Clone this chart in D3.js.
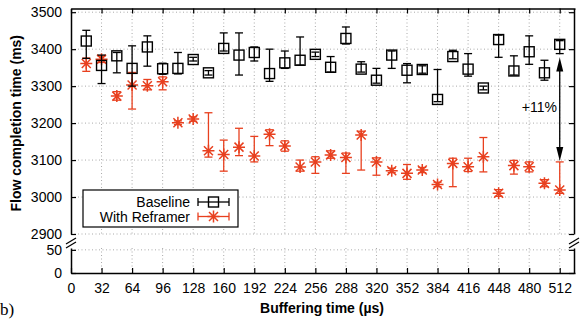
<!DOCTYPE html>
<html>
<head>
<meta charset="utf-8">
<script src="https://cdn.jsdelivr.net/npm/d3@7"></script>
<style>
  body { margin: 0; background: #fff; }
  svg { display: block; font-family: "Liberation Sans", Arial, sans-serif; }
</style>
</head>
<body>
<svg id="chart" width="580" height="320"></svg>
<script>
const bufferTimes = [16, 32, 48, 64, 80, 96, 112, 128, 144, 160, 176, 192, 208, 224, 240, 256,
  272, 288, 304, 320, 336, 352, 368, 384, 400, 416, 432, 448, 464, 480, 496, 512];

const baselineMean = [3422, 3356, 3382, 3348, 3406, 3347, 3348, 3372, 3336, 3402, 3384, 3391, 3334, 3363, 3370, 3386,
  3351, 3429, 3346, 3316, 3384, 3343, 3345, 3264, 3380, 3346, 3295, 3426, 3341, 3393, 3336, 3413];
const baselineLo = [3375, 3307, 3336, 3300, 3354, 3332, 3333, 3368, 3330, 3395, 3330, 3368, 3313, 3348, 3357, 3380,
  3338, 3414, 3338, 3308, 3348, 3309, 3335, 3258, 3374, 3327, 3290, 3378, 3330, 3359, 3316, 3388];
const baselineHi = [3451, 3384, 3391, 3409, 3436, 3362, 3391, 3378, 3342, 3444, 3444, 3406, 3400, 3395, 3433, 3392,
  3380, 3460, 3366, 3348, 3395, 3361, 3355, 3345, 3397, 3388, 3300, 3438, 3382, 3436, 3370, 3423];

const reframerMean = [3361, 3373, 3273, 3303, 3301, 3312, 3201, 3211, 3125, 3115, 3135, 3111, 3170, 3138, 3081, 3095,
  3114, 3107, 3168, 3095, 3071, 3064, 3073, 3034, 3091, 3082, 3109, 3010, 3085, 3082, 3037, 3019];
const reframerLo = [3340, 3364, 3262, 3238, 3290, 3290, 3196, 3205, 3108, 3070, 3112, 3095, 3139, 3124, 3070, 3064,
  3105, 3064, 3073, 3059, 3066, 3048, 3066, 3028, 3028, 3069, 3068, 3002, 3062, 3068, 3028, 3010];
const reframerHi = [3376, 3381, 3285, 3337, 3318, 3325, 3206, 3217, 3228, 3154, 3186, 3164, 3182, 3152, 3100, 3109,
  3125, 3119, 3178, 3106, 3078, 3088, 3080, 3040, 3105, 3105, 3161, 3020, 3099, 3095, 3047, 3095];

const xTicks = [0, 32, 64, 96, 128, 160, 192, 224, 256, 288, 320, 352, 384, 416, 448, 480, 512];
const yTicksTop = [2900, 3000, 3100, 3200, 3300, 3400, 3500];
const yTicksBottom = [0, 50];

const seriesNames = ['Baseline', 'With Reframer'];
const gainLabel = '+11%';

const black = '#000';
const red = '#e8401f';

const svg = d3.select('#chart');

const left = 71, right = 574;
const x = d3.scaleLinear().domain([0, 528]).range([left, left + 504]);
const yTop = d3.scaleLinear().domain([2900, 3510]).range([234, 8.5]);
const yBot = d3.scaleLinear().domain([0, 54]).range([273, 248]);
const fmt = d3.format('d');

// grid
const grid = svg.append('g').attr('stroke', '#aaa').attr('stroke-dasharray', '1,2.5').attr('stroke-width', 1);
xTicks.filter((d) => d > 0).forEach((d) => {
  grid.append('line').attr('x1', x(d)).attr('x2', x(d)).attr('y1', yTop.range()[1]).attr('y2', yTop.range()[0]);
  grid.append('line').attr('x1', x(d)).attr('x2', x(d)).attr('y1', yBot.range()[1]).attr('y2', yBot.range()[0]);
});
yTicksTop.forEach((d) => {
  grid.append('line').attr('x1', left).attr('x2', right).attr('y1', yTop(d)).attr('y2', yTop(d));
});
grid.append('line').attr('x1', left).attr('x2', right).attr('y1', yBot(50)).attr('y2', yBot(50));

// axes
const tickFont = (g) => g.selectAll('text').attr('font-size', 14).attr('fill', '#000')
  .attr('font-family', '"Liberation Sans", Arial, sans-serif');

const axTop = svg.append('g').attr('transform', `translate(${left},0)`)
  .call(d3.axisLeft(yTop).tickValues(yTicksTop).tickFormat(fmt).tickSize(-5).tickPadding(9).tickSizeOuter(0));
const axTopR = svg.append('g').attr('transform', `translate(${right},0)`)
  .call(d3.axisRight(yTop).tickValues(yTicksTop).tickSize(-5).tickFormat('').tickSizeOuter(0));
const axBot = svg.append('g').attr('transform', `translate(${left},0)`)
  .call(d3.axisLeft(yBot).tickValues(yTicksBottom).tickFormat(fmt).tickSize(-5).tickPadding(9).tickSizeOuter(0));
const axBotR = svg.append('g').attr('transform', `translate(${right},0)`)
  .call(d3.axisRight(yBot).tickValues(yTicksBottom).tickSize(-5).tickFormat('').tickSizeOuter(0));
const axX = svg.append('g').attr('transform', `translate(0,${yBot.range()[0]})`)
  .call(d3.axisBottom(x).tickValues(xTicks).tickFormat(fmt).tickSize(-5).tickPadding(9).tickSizeOuter(0));
const axXTop = svg.append('g').attr('transform', `translate(0,${yTop.range()[1]})`)
  .call(d3.axisTop(x).tickValues(xTicks).tickSize(-5).tickFormat('').tickSizeOuter(0));

[axTop, axTopR, axBot, axBotR, axX, axXTop].forEach((g) => {
  g.call(tickFont);
  g.selectAll('.domain').attr('stroke', '#000').attr('stroke-width', 1.5);
  g.selectAll('.tick line').attr('stroke', '#000').attr('stroke-width', 1.2);
});
axX.selectAll('text').attr('dy', '0.75em');

// axis break marks
[left, right].forEach((bx) => {
  [-3, 1].forEach((o) => {
    svg.append('line').attr('x1', bx - 5).attr('x2', bx + 5)
      .attr('y1', 244 + o + 3).attr('y2', 244 + o - 3)
      .attr('stroke', '#000').attr('stroke-width', 1.2);
  });
});

// data
const baseline = bufferTimes.map((t, i) => ({ t, m: baselineMean[i], lo: baselineLo[i], hi: baselineHi[i] }));
const reframer = bufferTimes.map((t, i) => ({ t, m: reframerMean[i], lo: reframerLo[i], hi: reframerHi[i] }));

function errorBars(g, data, color) {
  const cap = 4;
  const e = g.append('g').attr('stroke', color).attr('stroke-width', 1.3);
  e.selectAll('line.v').data(data).join('line').attr('class', 'v')
    .attr('x1', (d) => x(d.t)).attr('x2', (d) => x(d.t))
    .attr('y1', (d) => yTop(d.lo)).attr('y2', (d) => yTop(d.hi));
  e.selectAll('line.c1').data(data).join('line').attr('class', 'c1')
    .attr('x1', (d) => x(d.t) - cap).attr('x2', (d) => x(d.t) + cap)
    .attr('y1', (d) => yTop(d.lo)).attr('y2', (d) => yTop(d.lo));
  e.selectAll('line.c2').data(data).join('line').attr('class', 'c2')
    .attr('x1', (d) => x(d.t) - cap).attr('x2', (d) => x(d.t) + cap)
    .attr('y1', (d) => yTop(d.hi)).attr('y2', (d) => yTop(d.hi));
}

function squareMark(g, cx, cy) {
  g.append('rect').attr('x', cx - 5).attr('y', cy - 5).attr('width', 10).attr('height', 10)
    .attr('fill', 'none').attr('stroke', black).attr('stroke-width', 1.4);
}

function starMark(g, cx, cy) {
  const r = 6;
  g.append('path')
    .attr('d', `M${cx - r},${cy}H${cx + r}M${cx},${cy - r}V${cy + r}` +
      `M${cx - r * 0.75},${cy - r * 0.75}L${cx + r * 0.75},${cy + r * 0.75}` +
      `M${cx - r * 0.75},${cy + r * 0.75}L${cx + r * 0.75},${cy - r * 0.75}`)
    .attr('stroke', red).attr('stroke-width', 1.5).attr('fill', 'none');
}

const gR = svg.append('g');
errorBars(gR, reframer, red);
reframer.forEach((d) => starMark(gR, x(d.t), yTop(d.m)));

const gB = svg.append('g');
errorBars(gB, baseline, black);
baseline.forEach((d) => squareMark(gB, x(d.t), yTop(d.m)));

// +11% arrow
const last = bufferTimes.length - 1;
const ax = x(bufferTimes[last]);
const ay1 = yTop(baselineLo[last]) + 4;
const ay2 = yTop(reframerHi[last]) - 1;
svg.append('line').attr('x1', ax).attr('x2', ax).attr('y1', ay1 + 8).attr('y2', ay2 - 8)
  .attr('stroke', '#000').attr('stroke-width', 1.3);
svg.append('path').attr('d', `M${ax},${ay1}L${ax - 3.5},${ay1 + 14}L${ax + 3.5},${ay1 + 14}Z`).attr('fill', '#000');
svg.append('path').attr('d', `M${ax},${ay2}L${ax - 3.5},${ay2 - 14}L${ax + 3.5},${ay2 - 14}Z`).attr('fill', '#000');
svg.append('text').attr('x', 557).attr('y', 112).attr('text-anchor', 'end')
  .attr('font-size', 14).text(gainLabel);

// legend
const lg = svg.append('g');
lg.append('rect').attr('x', 83).attr('y', 190).attr('width', 155).attr('height', 37)
  .attr('fill', '#fff').attr('stroke', '#000').attr('stroke-width', 1.2);
seriesNames.forEach((name, i) => {
  const ly = 202 + i * 14.5;
  const color = i === 0 ? black : red;
  lg.append('text').attr('x', 190).attr('y', ly + 5).attr('text-anchor', 'end')
    .attr('font-size', 14).text(name);
  lg.append('line').attr('x1', 198).attr('x2', 229).attr('y1', ly).attr('y2', ly)
    .attr('stroke', color).attr('stroke-width', 1.3);
  [198, 229].forEach((ex) => lg.append('line').attr('x1', ex).attr('x2', ex)
    .attr('y1', ly - 4).attr('y2', ly + 4).attr('stroke', color).attr('stroke-width', 1.3));
  if (i === 0) squareMark(lg, 213.5, ly);
  else starMark(lg, 213.5, ly);
});

// titles
svg.append('text').attr('transform', `translate(21,${(yTop.range()[0] + yTop.range()[1]) / 2 + 2}) rotate(-90)`)
  .attr('text-anchor', 'middle').attr('font-size', 14).attr('font-weight', 'bold')
  .text('Flow completion time (ms)');
svg.append('text').attr('x', 322).attr('y', 313).attr('text-anchor', 'middle')
  .attr('font-size', 14).attr('font-weight', 'bold').text('Buffering time (µs)');

svg.append('text').attr('x', 0).attr('y', 315)
  .attr('font-size', 17).attr('font-family', '"Liberation Serif", serif').text('b)');
</script>
</body>
</html>
